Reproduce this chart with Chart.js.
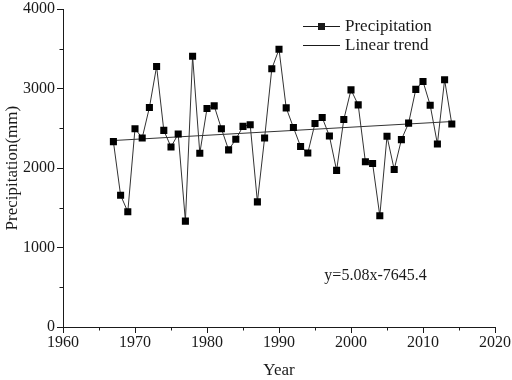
<!DOCTYPE html>
<html>
<head>
<meta charset="utf-8">
<script src="https://cdn.jsdelivr.net/npm/chart.js@4.4.1/dist/chart.umd.min.js"></script>
<style>
  html, body { margin: 0; padding: 0; background: #fff; }
  #wrap { width: 512px; height: 380px; }
</style>
</head>
<body>
<div id="wrap"><canvas id="myChart" width="512" height="380"></canvas></div>
<script>
// data
const years = [1967, 1968, 1969, 1970, 1971, 1972, 1973, 1974, 1975, 1976,
  1977, 1978, 1979, 1980, 1981, 1982, 1983, 1984, 1985, 1986,
  1987, 1988, 1989, 1990, 1991, 1992, 1993, 1994, 1995, 1996,
  1997, 1998, 1999, 2000, 2001, 2002, 2003, 2004, 2005, 2006,
  2007, 2008, 2009, 2010, 2011, 2012, 2013, 2014];
const precip = [2333, 1658, 1450, 2496, 2379, 2762, 3279, 2475, 2266, 2429,
  1333, 3408, 2187, 2750, 2783, 2496, 2229, 2362, 2525, 2546,
  1575, 2379, 3250, 3496, 2758, 2512, 2271, 2191, 2562, 2637,
  2404, 1971, 2612, 2985, 2796, 2079, 2058, 1400, 2400, 1983,
  2358, 2566, 2991, 3091, 2791, 2304, 3112, 2554];
const trendYears = [1967, 2014];
const trendValues = [2347, 2586];
const xTicks = [1960, 1970, 1980, 1990, 2000, 2010, 2020];
const yTicks = [0, 1000, 2000, 3000, 4000];
const equation = 'y=5.08x-7645.4';

const FONT = "'Liberation Serif', 'Times New Roman', serif";
const INK = '#1a1a1a';

const extras = {
  id: 'extras',
  afterDraw(chart) {
    const ctx = chart.ctx;
    const xs = chart.scales.x, ys = chart.scales.y;
    const a = chart.chartArea;
    ctx.save();
    ctx.strokeStyle = INK;
    ctx.lineWidth = 1;
    // minor ticks
    ctx.beginPath();
    for (let v = 1965; v < 2020; v += 10) {
      const px = Math.round(xs.getPixelForValue(v)) + 0.5;
      ctx.moveTo(px, a.bottom);
      ctx.lineTo(px, a.bottom + 3.5);
    }
    for (let v = 500; v < 4000; v += 1000) {
      const py = Math.round(ys.getPixelForValue(v)) + 0.5;
      ctx.moveTo(a.left, py);
      ctx.lineTo(a.left - 3.5, py);
    }
    ctx.stroke();

    // equation
    ctx.fillStyle = INK;
    ctx.font = '16px ' + FONT;
    ctx.textBaseline = 'middle';
    ctx.textAlign = 'left';
    ctx.fillText(equation, xs.getPixelForValue(1996.3), ys.getPixelForValue(640));

    // legend
    const lx = 303, ly1 = 26, ly2 = 45;
    ctx.beginPath();
    ctx.moveTo(lx, ly1 + 0.5); ctx.lineTo(lx + 37, ly1 + 0.5);
    ctx.moveTo(lx, ly2 + 0.5); ctx.lineTo(lx + 37, ly2 + 0.5);
    ctx.stroke();
    ctx.fillRect(lx + 15, ly1 - 3, 7, 7);
    ctx.font = '17px ' + FONT;
    ctx.fillText('Precipitation', lx + 42, ly1 + 1);
    ctx.fillText('Linear trend', lx + 42, ly2 + 1);
    ctx.restore();
  }
};

const ctx = document.getElementById('myChart').getContext('2d');
const myChart = new Chart(ctx, {
  type: 'line',
  data: {
    datasets: [{
      label: 'Precipitation',
      data: years.map((y, i) => ({ x: y, y: precip[i] })),
      borderColor: '#333',
      borderWidth: 1,
      backgroundColor: '#000',
      pointStyle: 'rect',
      pointRadius: 5,
      pointBorderWidth: 0,
      pointBackgroundColor: '#000',
      tension: 0
    }, {
      label: 'Linear trend',
      data: trendYears.map((y, i) => ({ x: y, y: trendValues[i] })),
      borderColor: '#333',
      borderWidth: 1,
      pointRadius: 0,
      tension: 0
    }]
  },
  options: {
    responsive: false,
    animation: false,
    layout: { padding: { top: 7, right: 17, left: 0, bottom: 0 } },
    plugins: {
      legend: { display: false },
      tooltip: { enabled: false }
    },
    scales: {
      x: {
        type: 'linear',
        min: 1960, max: 2020,
        afterBuildTicks: s => { s.ticks = xTicks.map(v => ({ value: v })); },
        afterFit: s => { s.height = 53; s.paddingRight = 0; s.paddingLeft = 0; },
        border: { color: INK, width: 1 },
        grid: { drawOnChartArea: false, drawTicks: true, tickLength: 6, color: INK },
        ticks: { color: INK, font: { family: FONT, size: 16, lineHeight: 0.9 }, padding: 3, maxRotation: 0,
          callback: v => String(v) },
        title: { display: true, text: 'Year', color: INK, font: { family: FONT, size: 17, lineHeight: 1 },
          padding: { top: 6, bottom: 1 } }
      },
      y: {
        min: 0, max: 4000,
        afterBuildTicks: s => { s.ticks = yTicks.map(v => ({ value: v })); },
        afterFit: s => { s.width = 63; },
        border: { color: INK, width: 1 },
        grid: { drawOnChartArea: false, drawTicks: true, tickLength: 6, color: INK },
        ticks: { color: INK, font: { family: FONT, size: 16, lineHeight: 0.9 }, padding: 2,
          callback: v => String(v) },
        title: { display: true, text: 'Precipitation(mm)', color: INK, font: { family: FONT, size: 17 }, padding: { bottom: 0, top: 2 } }
      }
    }
  },
  plugins: [extras]
});
</script>
</body>
</html>
